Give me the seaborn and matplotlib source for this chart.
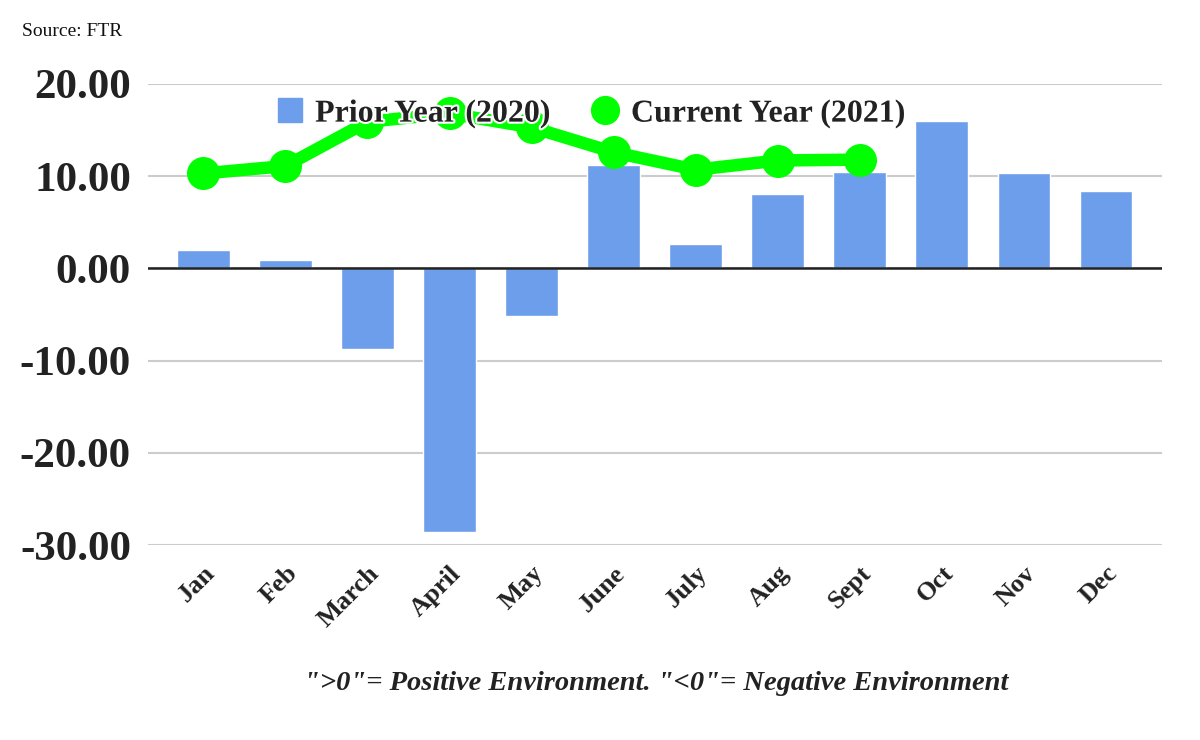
import numpy as np
import pandas as pd
import seaborn as sns
import matplotlib.pyplot as plt
import matplotlib.patheffects as pe
from matplotlib.lines import Line2D

months = ['Jan', 'Feb', 'March', 'April', 'May', 'June', 'July', 'Aug', 'Sept', 'Oct', 'Nov', 'Dec']
prior_2020 = [2.0, 0.9, -8.7, -28.6, -5.2, 11.2, 2.6, 8.1, 10.5, 16.0, 10.3, 8.4]
current_2021 = [10.3, 11.1, 15.9, 16.8, 15.3, 12.6, 10.7, 11.7, 11.8]
yticks = [20, 10, 0, -10, -20, -30]

bar_color = '#6d9eeb'
line_color = '#00ff00'

sns.set_style('white')
plt.rcParams['font.family'] = ['Liberation Serif', 'DejaVu Serif']

fig = plt.figure(figsize=(12, 7.4), dpi=100)
ax = fig.add_axes([0.123, 0.2635, 0.845, 0.623])

df_prior = pd.DataFrame({'month': months, 'value': prior_2020})
df_curr = pd.DataFrame({'month': months[:len(current_2021)], 'value': current_2021})

sns.barplot(data=df_prior, x='month', y='value', order=months, color=bar_color,
            saturation=1, width=0.64, ax=ax, zorder=2)
sns.pointplot(data=df_curr, x='month', y='value', order=months, color=line_color,
              markers='o', markersize=17, linewidth=9, ax=ax, zorder=3)

ax.set_ylim(-30, 20)
ax.set_xlim(-0.68, 11.68)
ax.set_yticks(yticks)
ax.set_yticklabels([f'{v:.2f}' for v in yticks], fontsize=31, fontweight='bold', color='#222222')
ax.set_xticks(range(len(months)))
ax.set_xticklabels(months, fontsize=19, fontweight='bold', color='#222222',
                   rotation=45, ha='right', rotation_mode='anchor')
ax.tick_params(axis='y', length=0, pad=12)
ax.tick_params(axis='x', length=0, pad=12)
ax.set_xlabel('')
ax.set_ylabel('')
ax.grid(axis='y', color='#cccccc', linewidth=1.5, zorder=0)
ax.set_axisbelow(True)
ax.axhline(0, color='#222222', linewidth=1.8, zorder=2.5)
for s in ax.spines.values():
    s.set_visible(False)

handles = [
    Line2D([], [], marker='s', linestyle='none', markersize=17, color=bar_color),
    Line2D([], [], marker='o', linestyle='none', markersize=20, color=line_color),
]
leg = ax.legend(handles, ['Prior Year (2020)', 'Current Year (2021)'], ncol=2,
                loc='center', bbox_to_anchor=(0.436, 0.935), frameon=False,
                prop={'size': 23, 'weight': 'bold'}, handletextpad=0.3,
                columnspacing=1.2, handlelength=1.0)
leg.set_zorder(5)
for t in leg.get_texts():
    t.set_color('#222222')
    t.set_path_effects([pe.withStroke(linewidth=3, foreground='white')])

fig.text(0.018, 0.958, 'Source: FTR', fontsize=14, color='#111111', ha='left', va='center')
fig.text(0.547, 0.077, '">0"= Positive Environment. "<0"= Negative Environment',
         fontsize=20.5, fontweight='bold', fontstyle='italic', color='#222222',
         ha='center', va='center')

fig.savefig('out.png', dpi=100)
